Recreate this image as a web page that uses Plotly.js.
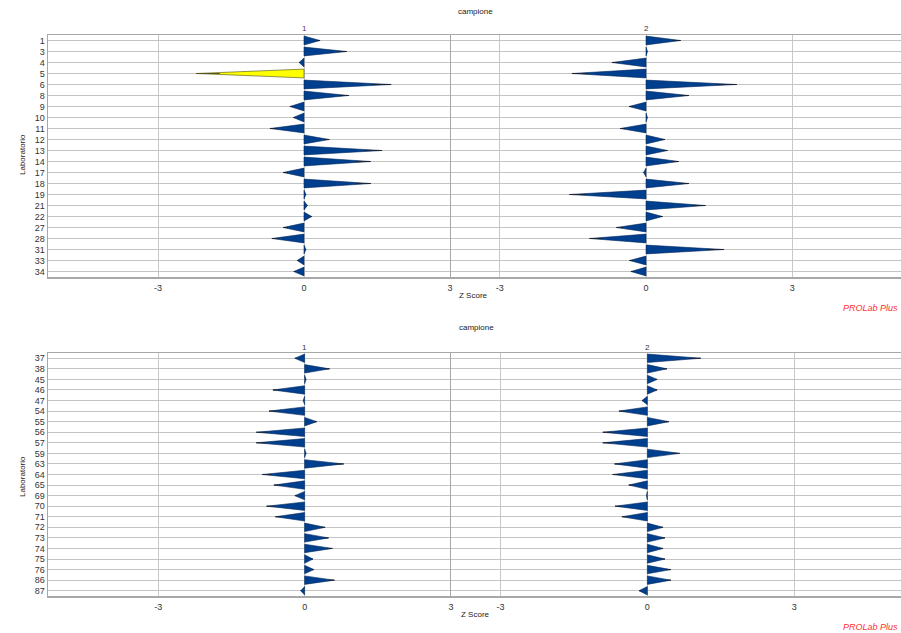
<!DOCTYPE html>
<html>
<head>
<meta charset="utf-8">
<script src="https://cdn.plot.ly/plotly-3.0.1.min.js"></script>
<style>html,body{margin:0;padding:0;background:#fff;}#chart{width:901px;height:633px;}</style>
</head>
<body>
<div id="chart"></div>
<script>
// ---- data ----
const labsTop = ['1','3','4','5','6','8','9','10','11','12','13','14','17','18','19','21','22','27','28','31','33','34'];
const zTop1 = [0.33,0.88,-0.10,-2.22,1.79,0.92,-0.29,-0.22,-0.70,0.52,1.60,1.37,-0.43,1.37,0.04,0.07,0.16,-0.43,-0.66,0.04,-0.14,-0.21];
const zTop2 = [0.71,0.03,-0.70,-1.52,1.86,0.88,-0.35,0.03,-0.53,0.39,0.44,0.67,-0.05,0.88,-1.57,1.22,0.34,-0.61,-1.16,1.60,-0.34,-0.31];
const labsBot = ['37','38','45','46','47','54','55','56','57','59','63','64','65','69','70','71','72','73','74','75','76','86','87'];
const zBot1 = [-0.20,0.51,0.03,-0.65,-0.03,-0.73,0.25,-0.99,-0.99,0.03,0.80,-0.87,-0.63,-0.20,-0.78,-0.60,0.42,0.49,0.57,0.17,0.19,0.61,-0.08];
const zBot2 = [1.09,0.40,0.20,0.20,-0.11,-0.58,0.44,-0.91,-0.91,0.66,-0.67,-0.71,-0.38,-0.02,-0.66,-0.52,0.32,0.36,0.32,0.36,0.48,0.48,-0.17];
const highlightTop1 = ['5'];   // labs flagged in yellow, panel 1 (top)
const xTicks = [-3, 0, 3];

// ---- build triangle traces ----
const BLUE = '#003f8e';
const YELLOW = '#ffff00';
const HALF = 0.4;

function triangles(labs, vals, xa, ya, highlight) {
  const out = [];
  const groups = {normal: {x: [], y: [], cx: [], cy: []}, hi: {x: [], y: [], cx: [], cy: []}};
  labs.forEach((lab, i) => {
    const v = vals[i];
    const g = highlight && highlight.includes(lab) ? groups.hi : groups.normal;
    g.x.push(0, v, 0, 0, null);
    g.y.push(i - HALF, i, i + HALF, i - HALF, null);
    g.cx.push(v * 0.78, v, null);
    g.cy.push(i, i, null);
  });
  out.push({type: 'scatter', mode: 'lines', x: groups.normal.x, y: groups.normal.y, xaxis: xa, yaxis: ya,
    fill: 'toself', fillcolor: BLUE, line: {color: '#062a5c', width: 0.6}, hoverinfo: 'skip', showlegend: false});
  out.push({type: 'scatter', mode: 'lines', x: groups.normal.cx, y: groups.normal.cy, xaxis: xa, yaxis: ya,
    line: {color: '#1c2433', width: 1}, hoverinfo: 'skip', showlegend: false});
  if (groups.hi.x.length) {
    out.push({type: 'scatter', mode: 'lines', x: groups.hi.x, y: groups.hi.y, xaxis: xa, yaxis: ya,
      fill: 'toself', fillcolor: YELLOW, line: {color: '#4a4a1a', width: 0.6}, hoverinfo: 'skip', showlegend: false});
    out.push({type: 'scatter', mode: 'lines', x: groups.hi.cx, y: groups.hi.cy, xaxis: xa, yaxis: ya,
      line: {color: '#55551a', width: 1}, hoverinfo: 'skip', showlegend: false});
  }
  return out;
}

const data = [].concat(
  triangles(labsTop, zTop1, 'x', 'y', highlightTop1),
  triangles(labsTop, zTop2, 'x2', 'y2', null),
  triangles(labsBot, zBot1, 'x3', 'y3', null),
  triangles(labsBot, zBot2, 'x4', 'y4', null)
);

// ---- layout ----
const W = 901, H = 633;
const px = v => v / W;
const py = v => 1 - v / H;
const FONT = 'Liberation Sans, Arial, sans-serif';

function xAxis(domain, range, anchor) {
  return {domain: domain, range: range, anchor: anchor, tickvals: xTicks, ticktext: xTicks.map(String),
    showgrid: true, gridcolor: '#c8c8c8', gridwidth: 1, zeroline: false,
    showline: true, linecolor: '#a8a8a8', linewidth: 1.5, mirror: true,
    ticks: '', ticklabelstandoff: 2, tickfont: {family: FONT, size: 9, color: '#333'}, fixedrange: true};
}
function yAxis(domain, labs, anchor, showLabels) {
  const idx = labs.map((_, i) => i);
  return {domain: domain, range: [labs.length - 0.5, -0.5], anchor: anchor, tickvals: idx, ticktext: labs,
    showticklabels: showLabels, showgrid: true, gridcolor: '#c4c4c4', gridwidth: 1, zeroline: false,
    showline: true, linecolor: '#a8a8a8', linewidth: 1.5, ticks: '',
    tickfont: {family: FONT, size: 9, color: '#333'}, fixedrange: true};
}

const topDom = [py(277), py(35)];
const botDom = [py(596), py(353)];
const leftDom = [px(48), px(451)];
const rightDom = [px(451), 1];

function note(text, xref, x, y, opts) {
  return Object.assign({text: text, xref: xref, yref: 'paper', x: x, y: y, xanchor: 'center', yanchor: 'middle',
    showarrow: false, font: {size: 8, color: '#222'}}, opts || {});
}

const layout = {
  width: W, height: H,
  margin: {l: 0, r: 0, t: 0, b: 0},
  paper_bgcolor: '#fff', plot_bgcolor: '#fff',
  showlegend: false,
  font: {family: FONT, size: 9, color: '#333'},
  xaxis: xAxis(leftDom, [-5.26, 3.02], 'y'),
  xaxis2: xAxis(rightDom, [-4.0, 5.23], 'y2'),
  xaxis3: xAxis(leftDom, [-5.26, 3.0], 'y3'),
  xaxis4: xAxis(rightDom, [-4.01, 5.18], 'y4'),
  yaxis: yAxis(topDom, labsTop, 'x', true),
  yaxis2: yAxis(topDom, labsTop, 'x2', false),
  yaxis3: yAxis(botDom, labsBot, 'x3', true),
  yaxis4: yAxis(botDom, labsBot, 'x4', false),
  annotations: [
    note('campione', 'paper', px(475), py(12)),
    note('1', 'x', 0, py(29), {font: {size: 8, color: '#603070'}}),
    note('2', 'x2', 0, py(29), {font: {size: 8, color: '#333'}}),
    note('Laboratorio', 'paper', px(22), py(155), {textangle: -90}),
    note('Z Score', 'paper', px(474), py(295)),
    note('<i>PROLab Plus</i>', 'paper', px(900), py(308), {xanchor: 'right', font: {size: 9, color: '#ff3030'}}),
    note('campione', 'paper', px(476), py(328)),
    note('1', 'x3', 0, py(347), {font: {size: 8, color: '#333'}}),
    note('2', 'x4', 0, py(347), {font: {size: 8, color: '#333'}}),
    note('Laboratorio', 'paper', px(22), py(477), {textangle: -90}),
    note('Z Score', 'paper', px(475), py(614)),
    note('<i>PROLab Plus</i>', 'paper', px(900), py(627), {xanchor: 'right', font: {size: 9, color: '#ff3030'}})
  ]
};

Plotly.newPlot('chart', data, layout, {displayModeBar: false, staticPlot: true});
</script>
</body>
</html>
